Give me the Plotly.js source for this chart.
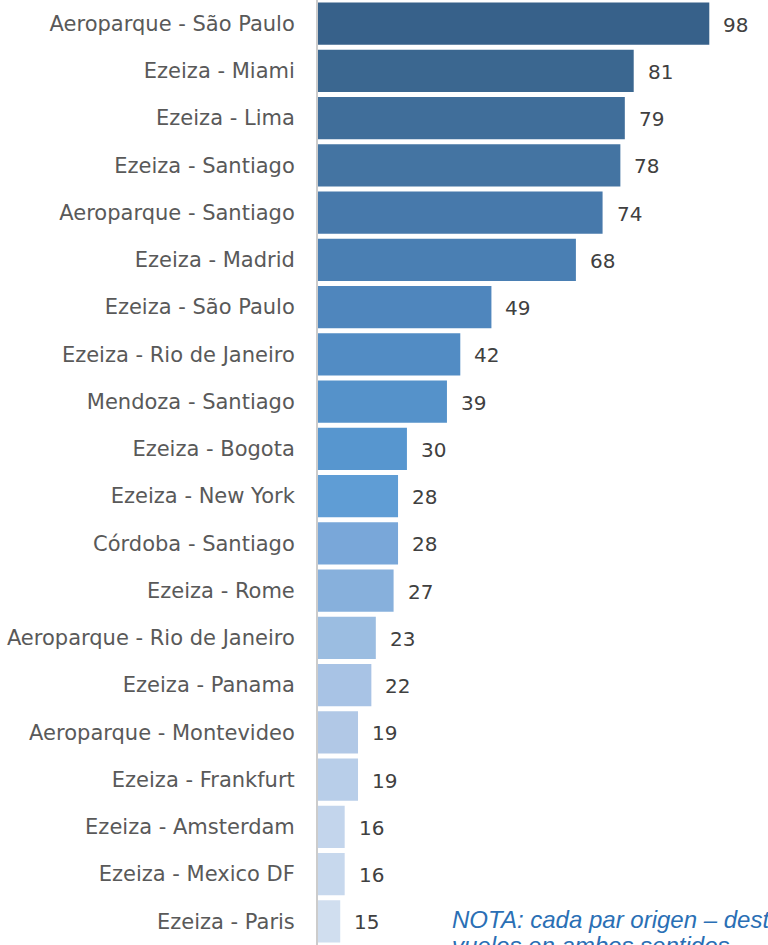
<!DOCTYPE html>
<html>
<head>
<meta charset="utf-8">
<script src="https://cdn.plot.ly/plotly-3.0.1.min.js"></script>
<style>html,body{margin:0;padding:0;background:#fff;}#chart{width:768px;height:945px;}</style>
</head>
<body>
<div id="chart"></div>
<script>
const routes = [
  "Aeroparque - São Paulo","Ezeiza - Miami","Ezeiza - Lima","Ezeiza - Santiago",
  "Aeroparque - Santiago","Ezeiza - Madrid","Ezeiza - São Paulo","Ezeiza - Rio de Janeiro",
  "Mendoza - Santiago","Ezeiza - Bogota","Ezeiza - New York","Córdoba - Santiago",
  "Ezeiza - Rome","Aeroparque - Rio de Janeiro","Ezeiza - Panama","Aeroparque - Montevideo",
  "Ezeiza - Frankfurt","Ezeiza - Amsterdam","Ezeiza - Mexico DF","Ezeiza - Paris"
];
const flights = [98,81,79,78,74,68,49,42,39,30,28,28,27,23,22,19,19,16,16,15];
const barColors = [
  "#37618a","#3b6790","#406e9a","#4474a2","#4779ab","#4a7fb3","#4f86bd","#528cc4",
  "#5592ca","#5796cf","#5f9dd5","#79a7d9","#87b0dc","#9bbde1","#a8c3e5","#b1c8e6",
  "#b8cee9","#c3d5ec","#c7d8ed","#d0deef"
];
const noteLines = ["NOTA: cada par origen – destino incluye", "vuelos en ambos sentidos."];

const trace = {
  type: "bar",
  orientation: "h",
  y: routes,
  x: flights,
  marker: {color: barColors},
  width: 0.89,
  hoverinfo: "none"
};

const valueAnnotations = routes.map((r, i) => ({
  x: flights[i], y: r, xref: "x", yref: "y",
  text: String(flights[i]), showarrow: false,
  xanchor: "left", xshift: 12, yshift: -1,
  font: {family: "DejaVu Sans, sans-serif", size: 20, color: "#404040"}
}));

const noteAnnotations = noteLines.map((t, i) => ({
  xref: "paper", yref: "paper",
  x: (450 - 318) / 450, y: (945 - (919 + i * 27)) / 945,
  xanchor: "left", yanchor: "middle", align: "left", showarrow: false,
  text: t,
  font: {family: "Liberation Sans, Arial, sans-serif", size: 24, color: "#2a6fb5", style: "italic"}
}));

const layout = {
  width: 768, height: 945,
  margin: {l: 318, r: 0, t: 0, b: 0, pad: 0},
  paper_bgcolor: "#ffffff", plot_bgcolor: "#ffffff",
  showlegend: false,
  xaxis: {range: [10, 111.2], visible: false, fixedrange: true},
  yaxis: {
    type: "category", range: [19.5, -0.5],
    showline: true, linecolor: "#cccccc", linewidth: 2,
    showgrid: false, zeroline: false, ticks: "",
    ticklabelstandoff: 17,
    tickfont: {family: "DejaVu Sans, sans-serif", size: 21, color: "#595959"}
  },
  annotations: valueAnnotations.concat(noteAnnotations)
};

Plotly.newPlot("chart", [trace], layout, {staticPlot: true, displayModeBar: false});
</script>
</body>
</html>
